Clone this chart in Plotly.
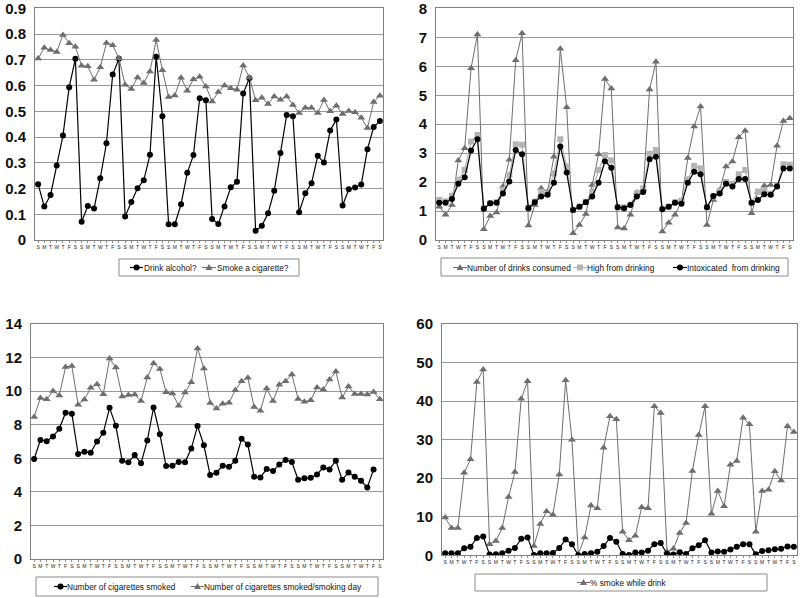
import plotly.graph_objects as go

day_labels = ["S", "M", "T", "W", "T", "F", "S"] * 8

drink_alcohol = [0.217, 0.130, 0.175, 0.290, 0.406, 0.594, 0.704,
                 0.071, 0.132, 0.122, 0.240, 0.376, 0.643, 0.704,
                 0.091, 0.148, 0.201, 0.232, 0.331, 0.712, 0.481,
                 0.061, 0.061, 0.139, 0.261, 0.330, 0.551, 0.543,
                 0.082, 0.062, 0.130, 0.205, 0.226, 0.569, 0.629,
                 0.036, 0.055, 0.104, 0.191, 0.338, 0.486, 0.481,
                 0.108, 0.182, 0.221, 0.327, 0.301, 0.426, 0.468,
                 0.134, 0.197, 0.204, 0.216, 0.353, 0.439, 0.462]

smoke_cigarette = [0.705, 0.747, 0.738, 0.731, 0.797, 0.765, 0.751,
                   0.677, 0.675, 0.623, 0.671, 0.766, 0.757, 0.706,
                   0.603, 0.587, 0.632, 0.610, 0.655, 0.777, 0.660,
                   0.556, 0.562, 0.631, 0.580, 0.625, 0.634, 0.597,
                   0.538, 0.575, 0.600, 0.590, 0.584, 0.678, 0.632,
                   0.543, 0.553, 0.529, 0.558, 0.545, 0.558, 0.525,
                   0.494, 0.514, 0.514, 0.494, 0.544, 0.500, 0.522,
                   0.490, 0.501, 0.496, 0.475, 0.435, 0.536, 0.561]

drinks_consumed = [1.15, 0.87, 1.21, 2.75, 3.17, 5.93, 7.10,
                   0.37, 0.83, 0.95, 1.85, 2.77, 6.21, 7.14,
                   0.50, 1.21, 1.79, 1.67, 2.88, 6.61, 4.59,
                   0.23, 0.52, 0.90, 1.90, 2.96, 5.56, 5.23,
                   0.43, 0.40, 0.87, 1.64, 1.75, 5.20, 6.16,
                   0.29, 0.60, 0.87, 1.33, 2.83, 3.92, 4.61,
                   0.52, 1.38, 1.73, 2.54, 2.71, 3.55, 3.77,
                   0.92, 1.67, 1.87, 1.90, 3.26, 4.11, 4.21]

high_from_drinking = [1.38, 1.33, 1.53, 2.08, 2.42, 3.40, 3.63,
                      1.10, 1.27, 1.30, 1.73, 2.25, 3.31, 3.29,
                      1.12, 1.33, 1.67, 1.61, 2.31, 3.48, 2.54,
                      1.04, 1.15, 1.32, 1.67, 2.42, 2.94, 2.75,
                      1.13, 1.12, 1.22, 1.61, 1.79, 2.98, 3.11,
                      1.06, 1.15, 1.30, 1.36, 2.10, 2.56, 2.48,
                      1.13, 1.50, 1.70, 2.00, 1.94, 2.27, 2.42,
                      1.29, 1.67, 1.73, 1.60, 1.87, 2.62, 2.60]

intoxicated = [1.29, 1.29, 1.42, 1.94, 2.17, 3.09, 3.48,
               1.08, 1.27, 1.29, 1.61, 2.02, 3.11, 2.96,
               1.10, 1.30, 1.50, 1.56, 1.98, 3.23, 2.33,
               1.04, 1.15, 1.30, 1.50, 1.98, 2.72, 2.50,
               1.13, 1.10, 1.21, 1.50, 1.66, 2.79, 2.88,
               1.06, 1.15, 1.29, 1.25, 1.98, 2.36, 2.27,
               1.13, 1.52, 1.61, 1.94, 1.85, 2.11, 2.11,
               1.29, 1.38, 1.58, 1.56, 1.85, 2.47, 2.47]

cigarettes_smoked = [5.96, 7.10, 7.02, 7.30, 7.76, 8.72, 8.66,
                     6.26, 6.40, 6.34, 7.00, 7.52, 9.01, 7.94,
                     5.86, 5.76, 6.20, 5.70, 7.06, 9.03, 7.44,
                     5.54, 5.56, 5.78, 5.76, 6.58, 7.92, 6.78,
                     5.00, 5.14, 5.56, 5.50, 5.86, 7.16, 6.82,
                     4.90, 4.86, 5.36, 5.24, 5.64, 5.90, 5.78,
                     4.72, 4.82, 4.84, 5.04, 5.46, 5.34, 5.86,
                     4.72, 5.16, 4.90, 4.66, 4.26, 5.34, None]

cigarettes_per_smoking_day = [8.47, 9.60, 9.52, 10.02, 9.74, 11.45, 11.50,
                              9.20, 9.50, 10.20, 10.42, 9.82, 11.95, 11.41,
                              9.68, 9.78, 9.80, 9.42, 10.82, 11.67, 11.33,
                              9.94, 9.86, 9.14, 9.92, 10.54, 12.55, 11.35,
                              9.30, 8.97, 9.26, 9.32, 10.06, 10.60, 10.80,
                              9.06, 8.83, 10.16, 9.42, 10.38, 10.60, 11.00,
                              9.54, 9.38, 9.46, 10.22, 10.10, 10.70, 11.17,
                              9.62, 10.28, 9.84, 9.84, 9.80, 9.96, 9.52]

pct_smoke_while_drink = [9.8, 7.1, 7.1, 21.4, 24.9, 45.0, 48.2,
                         2.9, 3.7, 7.1, 15.1, 21.6, 40.6, 45.2,
                         2.4, 8.1, 11.4, 10.5, 21.0, 45.4, 30.0,
                         0.3, 4.6, 12.9, 12.2, 27.9, 36.1, 35.3,
                         6.1, 3.9, 5.1, 12.5, 12.2, 38.7, 36.9,
                         0.9, 1.7, 5.8, 8.4, 21.9, 31.2, 38.7,
                         10.8, 16.7, 12.7, 23.5, 24.5, 35.7, 34.0,
                         6.1, 16.7, 17.0, 21.8, 19.4, 33.5, 32.0]

second_series_panel4 = [0.5, 0.5, 0.5, 1.8, 2.2, 4.5, 4.9,
                        0.2, 0.3, 0.5, 1.2, 1.9, 4.3, 4.6,
                        0.1, 0.5, 0.5, 0.6, 1.9, 4.1, 2.9,
                        0.0, 0.35, 0.5, 0.9, 2.4, 4.5, 3.5,
                        0.35, 0.1, 0.7, 0.7, 1.2, 2.9, 3.2,
                        0.35, 0.2, 0.8, 0.35, 1.8, 2.6, 3.9,
                        0.7, 1.0, 0.9, 1.5, 2.2, 2.9, 2.9,
                        0.25, 1.1, 1.3, 1.6, 1.7, 2.3, 2.2]

legend1_labels = ["Drink alcohol?", "Smoke a cigarette?"]
legend2_labels = ["Number of drinks consumed", "High from drinking", "Intoxicated  from drinking"]
legend3_labels = ["Number of cigarettes smoked", "Number of cigarettes smoked/smoking day"]
legend4_labels = ["% smoke while drink"]

y1_ticks = [0, 0.1, 0.2, 0.3, 0.4, 0.5, 0.6, 0.7, 0.8, 0.9]
y2_ticks = [0, 1, 2, 3, 4, 5, 6, 7, 8]
y3_ticks = [0, 2, 4, 6, 8, 10, 12, 14]
y4_ticks = [0, 10, 20, 30, 40, 50, 60]

x_idx = list(range(len(day_labels)))

BLACK = "#000000"
GRAY = "#6e6e6e"
LIGHT = "#b4b4b4"
FONT = "Liberation Sans, Arial, sans-serif"

fig = go.Figure()


def black_circle(y, name, xa, ya):
    return go.Scatter(x=x_idx, y=y, name=name, mode="lines+markers", xaxis=xa, yaxis=ya,
                      showlegend=False,
                      line=dict(color=BLACK, width=1.2),
                      marker=dict(symbol="circle", size=6, color=BLACK),
                      connectgaps=False)


def gray_tri(y, name, xa, ya):
    return go.Scatter(x=x_idx, y=y, name=name, mode="lines+markers", xaxis=xa, yaxis=ya,
                      showlegend=False,
                      line=dict(color=GRAY, width=1),
                      marker=dict(symbol="triangle-up", size=7, color=GRAY))


# Panel 1
fig.add_trace(black_circle(drink_alcohol, legend1_labels[0], "x", "y"))
fig.add_trace(gray_tri(smoke_cigarette, legend1_labels[1], "x", "y"))
# Panel 2
fig.add_trace(gray_tri(drinks_consumed, legend2_labels[0], "x2", "y2"))
fig.add_trace(go.Scatter(x=x_idx, y=high_from_drinking, name=legend2_labels[1], mode="lines+markers",
                         xaxis="x2", yaxis="y2", showlegend=False,
                         line=dict(color=LIGHT, width=1.2),
                         marker=dict(symbol="square", size=6, color=LIGHT)))
fig.add_trace(black_circle(intoxicated, legend2_labels[2], "x2", "y2"))
# Panel 3
fig.add_trace(black_circle(cigarettes_smoked, legend3_labels[0], "x3", "y3"))
fig.add_trace(gray_tri(cigarettes_per_smoking_day, legend3_labels[1], "x3", "y3"))
# Panel 4
fig.add_trace(gray_tri(pct_smoke_while_drink, legend4_labels[0], "x4", "y4"))
fig.add_trace(black_circle(second_series_panel4, "", "x4", "y4"))

W, H = 800, 598


def px_x(p):
    return p / W


def px_y(p):
    return 1 - p / H


xcommon = dict(tickmode="array", tickvals=x_idx, ticktext=day_labels, range=[-0.5, 55.5],
               tickangle=0, automargin=False,
               tickfont=dict(size=5, family=FONT, color="#222"), showgrid=False,
               showline=True, linecolor="#808080", linewidth=1, mirror=True,
               ticks="outside", ticklen=2, tickcolor="#909090", zeroline=False, fixedrange=True)


def ycommon(rng, ticks):
    return dict(range=[rng[0], rng[1] * 1.0005], tickmode="array", tickvals=ticks,
                ticktext=[str(t) for t in ticks],
                showgrid=True, gridcolor="#9a9a9a", gridwidth=1,
                tickfont=dict(size=15, family=FONT, color="#111", weight="bold"),
                showline=True, linecolor="#808080", linewidth=1, mirror=True,
                zeroline=False, ticks="outside", ticklen=5, tickcolor="rgba(0,0,0,0)",
                ticklabeloverflow="allow",
                fixedrange=True, automargin=False)


fig.update_layout(
    width=W, height=H, margin=dict(l=0, r=0, t=0, b=0, pad=0),
    paper_bgcolor="white", plot_bgcolor="white", showlegend=False,
    font=dict(family=FONT, color="#111"),
    xaxis=dict(domain=[px_x(35), px_x(383)], anchor="y", **xcommon),
    yaxis=dict(domain=[px_y(240), px_y(8.3)], anchor="x", **ycommon([0, 0.9], y1_ticks)),
    xaxis2=dict(domain=[px_x(436), px_x(793)], anchor="y2", **xcommon),
    yaxis2=dict(domain=[px_y(240), px_y(8.3)], anchor="x2", **ycommon([0, 8], y2_ticks)),
    xaxis3=dict(domain=[px_x(31), px_x(383)], anchor="y3", **xcommon),
    yaxis3=dict(domain=[px_y(559), px_y(324)], anchor="x3", **ycommon([0, 14], y3_ticks)),
    xaxis4=dict(domain=[px_x(442), px_x(797)], anchor="y4", **xcommon),
    yaxis4=dict(domain=[px_y(555.3), px_y(324)], anchor="x4", **ycommon([0, 60], y4_ticks)),
)

# Legend boxes
boxes = [(119, 259, 299, 276), (441, 258, 788, 276), (36, 577, 378, 596), (475, 574, 767, 591)]
for (x0, y0, x1, y1) in boxes:
    fig.add_shape(type="rect", xref="paper", yref="paper",
                  x0=px_x(x0), x1=px_x(x1), y0=px_y(y1), y1=px_y(y0),
                  line=dict(color="#8a8a8a", width=1), fillcolor="rgba(0,0,0,0)")

STYLE = {
    "circle": (BLACK, 1.2),
    "triangle": (GRAY, 1.0),
    "square": (LIGHT, 1.2),
}


def legend_item(lx0, lx1, cy, kind, tx, text):
    color, lw = STYLE[kind]
    fig.add_shape(type="line", xref="paper", yref="paper",
                  x0=px_x(lx0), x1=px_x(lx1), y0=px_y(cy), y1=px_y(cy),
                  line=dict(color=color, width=lw))
    cx = (lx0 + lx1) / 2
    r = 3
    if kind == "circle":
        fig.add_shape(type="circle", xref="paper", yref="paper",
                      x0=px_x(cx - r), x1=px_x(cx + r), y0=px_y(cy + r), y1=px_y(cy - r),
                      line=dict(color=color, width=0), fillcolor=color)
    elif kind == "square":
        fig.add_shape(type="rect", xref="paper", yref="paper",
                      x0=px_x(cx - r), x1=px_x(cx + r), y0=px_y(cy + r), y1=px_y(cy - r),
                      line=dict(color=color, width=0), fillcolor=color)
    else:
        path = "M {:.5f},{:.5f} L {:.5f},{:.5f} L {:.5f},{:.5f} Z".format(
            px_x(cx - 3.5), px_y(cy + 2.5), px_x(cx + 3.5), px_y(cy + 2.5), px_x(cx), px_y(cy - 3.5))
        fig.add_shape(type="path", xref="paper", yref="paper", path=path,
                      line=dict(color=color, width=0), fillcolor=color)
    fig.add_annotation(xref="paper", yref="paper", x=px_x(tx), y=px_y(cy),
                       xanchor="left", yanchor="middle", showarrow=False, text=text,
                       borderpad=0,
                       font=dict(size=8.3, family=FONT, color="#111"))


legend_item(130, 143, 267.5, "circle", 143, legend1_labels[0])
legend_item(202, 216, 267.5, "triangle", 216, legend1_labels[1])

legend_item(453, 467, 267.5, "triangle", 466, legend2_labels[0])
legend_item(573, 587, 267.5, "square", 586, legend2_labels[1])
legend_item(673, 687, 267.5, "circle", 686, legend2_labels[2])

legend_item(54, 67, 586.5, "circle", 66, legend3_labels[0])
legend_item(191, 204, 586.5, "triangle", 203, legend3_labels[1])

legend_item(577, 590, 582.5, "triangle", 589, legend4_labels[0])

fig.write_html("out.html", config={"displayModeBar": False},
               post_script="document.body.style.margin='0';document.body.style.overflow='hidden';")
